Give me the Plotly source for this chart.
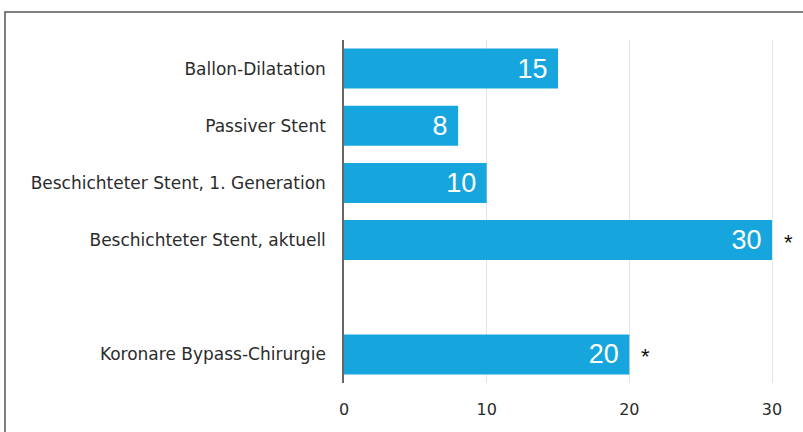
import plotly.graph_objects as go

categories = ["Ballon-Dilatation", "Passiver Stent", "Beschichteter Stent, 1. Generation",
              "Beschichteter Stent, aktuell", "Koronare Bypass-Chirurgie"]
positions = [0, 1, 2, 3, 5]
values = [15, 8, 10, 30, 20]
marked = [False, False, False, True, True]
x_ticks = [0, 10, 20, 30]

BLUE = "#16a6dd"
TEXT = "#2b2b2b"
LABEL_FONT = "DejaVu Sans"

fig = go.Figure()
fig.add_trace(go.Bar(
    x=values, y=positions, orientation="h",
    marker=dict(color=BLUE, line=dict(width=0)),
    width=0.7,
    text=[str(v) + "\u00a0" for v in values],
    textposition="inside", insidetextanchor="end",
    textfont=dict(color="white", size=27, family="Liberation Sans"),
    cliponaxis=False,
    hoverinfo="skip",
))

for v, p, m in zip(values, positions, marked):
    if m:
        fig.add_annotation(x=v, y=p, xref="x", yref="y", text="*", showarrow=False,
                           xanchor="left", xshift=10, yshift=-2,
                           font=dict(size=22, color="#111", family="Liberation Sans"))

L, R, T, B = 344, 20, 40, 49
W = 803 - L - R
H = 432 - T - B
fig.add_shape(type="rect", xref="paper", yref="paper",
              x0=(5 - L) / W, x1=(812 - L) / W,
              y0=-(440 - 432 + B) / H, y1=1 + (T - 12) / H,
              line=dict(color="#555", width=1.5), fillcolor="rgba(0,0,0,0)", layer="below")

fig.update_layout(
    width=803, height=432,
    margin=dict(l=L, r=R, t=T, b=B),
    paper_bgcolor="white", plot_bgcolor="white",
    showlegend=False,
    bargap=0.3,
    font=dict(family=LABEL_FONT, color=TEXT, size=17),
    xaxis=dict(range=[0, 30.77], tickvals=x_ticks, ticktext=[str(t) for t in x_ticks],
               showgrid=True, gridcolor="#e4e4e4", gridwidth=1.2, zeroline=False,
               showline=False, ticks="", ticklabelstandoff=15,
               tickfont=dict(size=16, color=TEXT, family=LABEL_FONT)),
    yaxis=dict(range=[5.5, -0.5], tickvals=positions, ticktext=categories,
               showgrid=False, zeroline=False, showline=True, linecolor="#666", linewidth=1.5,
               ticks="", ticklabelstandoff=13,
               tickfont=dict(size=17, color=TEXT, family=LABEL_FONT)),
)

fig.write_html("out.html")
